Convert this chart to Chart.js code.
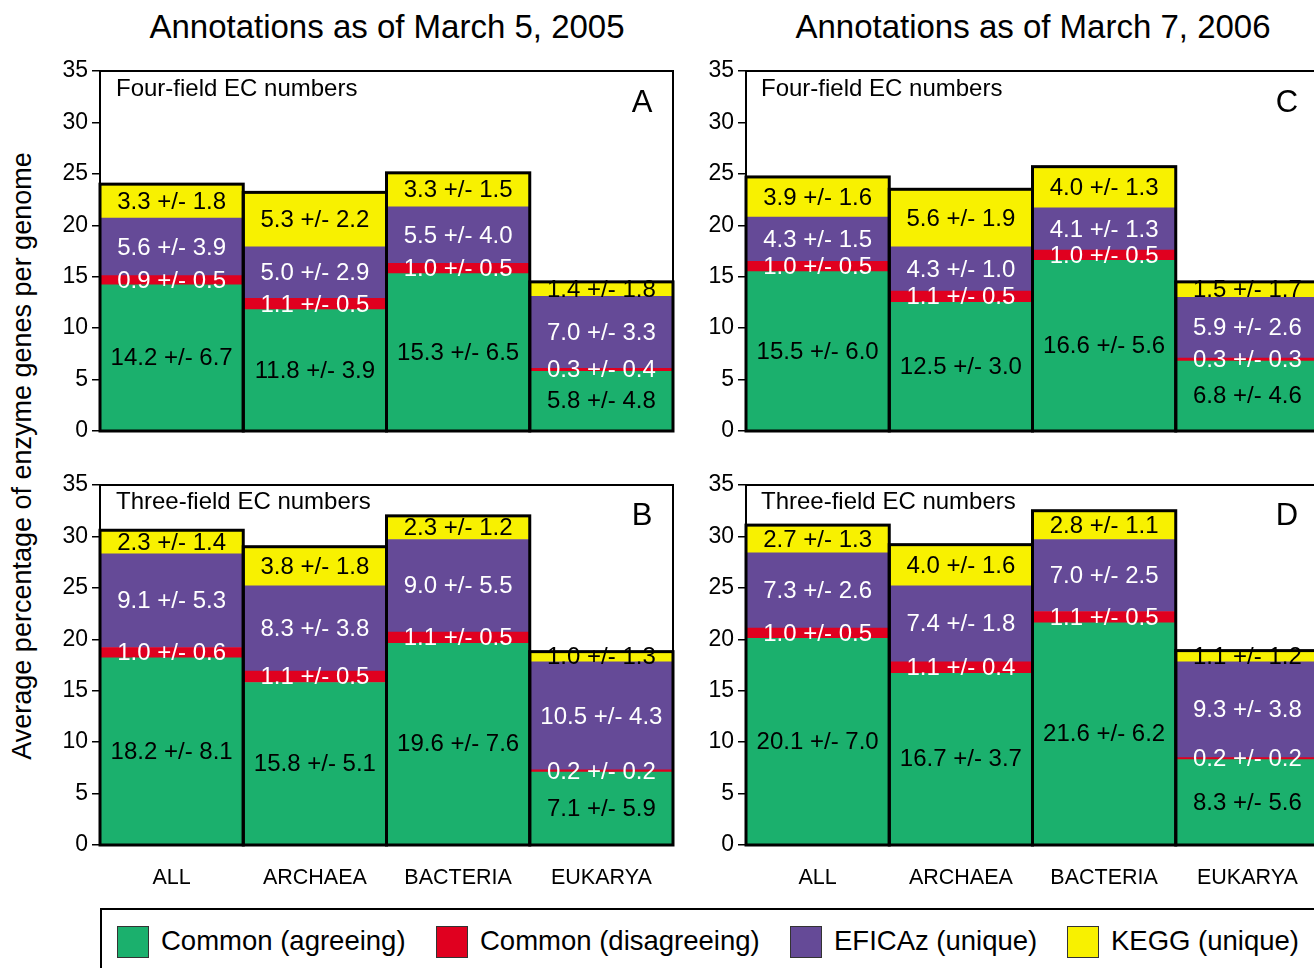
<!DOCTYPE html>
<html lang="en">
<head>
<meta charset="UTF-8">
<title>Enzyme gene annotations</title>
<script src="https://cdn.jsdelivr.net/npm/chart.js"></script>
<style>
    body {
        margin: 0;
        width: 1314px;
        height: 968px;
        overflow: hidden;
        position: relative;
        background: #fff;
        font-family: "Liberation Sans", Arial, sans-serif;
        color: #000;
    }
    canvas { position: absolute; }
    .title {
        position: absolute;
        font-size: 33px;
        white-space: nowrap;
        transform: translate(-50%, -50%);
    }
    .inner {
        position: absolute;
        font-size: 24px;
        white-space: nowrap;
        transform: translateY(-50%);
    }
    .letter {
        position: absolute;
        font-size: 31px;
        transform: translate(-50%, -50%);
    }
    #ylabel {
        position: absolute;
        left: 22px;
        top: 456px;
        font-size: 27px;
        white-space: nowrap;
        transform: translate(-50%, -50%) rotate(-90deg);
    }
    #legend {
        position: absolute;
        left: 100px;
        top: 908px;
        width: 1260px;
        height: 100px;
        border: 2px solid #000;
        box-sizing: border-box;
    }
    .swatch {
        position: absolute;
        top: 16px;
        width: 30px;
        height: 30px;
        border: 1px solid #333;
    }
    .ltext {
        position: absolute;
        top: 31px;
        font-size: 27.5px;
        white-space: nowrap;
        transform: translateY(-50%);
    }
</style>
</head>
<body>
<div class="title" style="left:387px; top:27px;">Annotations as of March 5, 2005</div>
<div class="title" style="left:1033px; top:27px;">Annotations as of March 7, 2006</div>
<div id="ylabel">Average percentage of enzyme genes per genome</div>

<canvas id="chartA" width="690" height="396" style="left:0px; top:53px;"></canvas>
<canvas id="chartB" width="690" height="433" style="left:0px; top:467px;"></canvas>
<canvas id="chartC" width="690" height="396" style="left:646px; top:53px;"></canvas>
<canvas id="chartD" width="690" height="433" style="left:646px; top:467px;"></canvas>

<div class="inner" style="left:116px; top:88px;">Four-field EC numbers</div>
<div class="inner" style="left:761px; top:88px;">Four-field EC numbers</div>
<div class="inner" style="left:116px; top:501px;">Three-field EC numbers</div>
<div class="inner" style="left:761px; top:501px;">Three-field EC numbers</div>
<div class="letter" style="left:642px; top:102px;">A</div>
<div class="letter" style="left:1287px; top:102px;">C</div>
<div class="letter" style="left:642px; top:515px;">B</div>
<div class="letter" style="left:1287px; top:515px;">D</div>

<div id="legend"></div>

<script>
    const categories = ['ALL', 'ARCHAEA', 'BACTERIA', 'EUKARYA'];
    const seriesNames = ['Common (agreeing)', 'Common (disagreeing)', 'EFICAz (unique)', 'KEGG (unique)'];
    const seriesColors = ['#1bb06d', '#e0001f', '#654a97', '#f8f100'];
    const labelColors = ['#000', '#fff', '#fff', '#000'];
    const yTicksMax = 35;

    // A: four-field EC numbers, March 5, 2005
    const aAgree = [14.2, 11.8, 15.3, 5.8],  aAgreeSd = [6.7, 3.9, 6.5, 4.8];
    const aDisagree = [0.9, 1.1, 1.0, 0.3],  aDisagreeSd = [0.5, 0.5, 0.5, 0.4];
    const aEficaz = [5.6, 5.0, 5.5, 7.0],    aEficazSd = [3.9, 2.9, 4.0, 3.3];
    const aKegg = [3.3, 5.3, 3.3, 1.4],      aKeggSd = [1.8, 2.2, 1.5, 1.8];

    // B: three-field EC numbers, March 5, 2005
    const bAgree = [18.2, 15.8, 19.6, 7.1],  bAgreeSd = [8.1, 5.1, 7.6, 5.9];
    const bDisagree = [1.0, 1.1, 1.1, 0.2],  bDisagreeSd = [0.6, 0.5, 0.5, 0.2];
    const bEficaz = [9.1, 8.3, 9.0, 10.5],   bEficazSd = [5.3, 3.8, 5.5, 4.3];
    const bKegg = [2.3, 3.8, 2.3, 1.0],      bKeggSd = [1.4, 1.8, 1.2, 1.3];

    // C: four-field EC numbers, March 7, 2006
    const cAgree = [15.5, 12.5, 16.6, 6.8],  cAgreeSd = [6.0, 3.0, 5.6, 4.6];
    const cDisagree = [1.0, 1.1, 1.0, 0.3],  cDisagreeSd = [0.5, 0.5, 0.5, 0.3];
    const cEficaz = [4.3, 4.3, 4.1, 5.9],    cEficazSd = [1.5, 1.0, 1.3, 2.6];
    const cKegg = [3.9, 5.6, 4.0, 1.5],      cKeggSd = [1.6, 1.9, 1.3, 1.7];

    // D: three-field EC numbers, March 7, 2006
    const dAgree = [20.1, 16.7, 21.6, 8.3],  dAgreeSd = [7.0, 3.7, 6.2, 5.6];
    const dDisagree = [1.0, 1.1, 1.1, 0.2],  dDisagreeSd = [0.5, 0.4, 0.5, 0.2];
    const dEficaz = [7.3, 7.4, 7.0, 9.3],    dEficazSd = [2.6, 1.8, 2.5, 3.8];
    const dKegg = [2.7, 4.0, 2.8, 1.1],      dKeggSd = [1.3, 1.6, 1.1, 1.2];

    const fontFamily = '"Liberation Sans", Arial, sans-serif';

    // frame, outline of each stacked bar, and the "mean +/- sd" labels
    const barDecor = {
        id: 'barDecor',
        afterDatasetsDraw(chart) {
            const ctx = chart.ctx;
            const area = chart.chartArea;
            const base = chart.scales.y.getPixelForValue(0);
            const top = chart.getDatasetMeta(chart.data.datasets.length - 1);
            ctx.save();
            ctx.strokeStyle = '#000';
            ctx.lineWidth = 2;
            ctx.strokeRect(area.left, area.top, area.right - area.left, area.bottom - area.top);
            ctx.lineWidth = 3;
            top.data.forEach(el => {
                ctx.strokeRect(el.x - el.width / 2, el.y, el.width, base - el.y);
            });
            ctx.font = '24px ' + fontFamily;
            ctx.textAlign = 'center';
            ctx.textBaseline = 'middle';
            chart.data.datasets.forEach((ds, i) => {
                const meta = chart.getDatasetMeta(i);
                meta.data.forEach((el, j) => {
                    ctx.fillStyle = ds.labelColor;
                    const txt = ds.data[j].toFixed(1) + ' +/- ' + ds.sd[j].toFixed(1);
                    ctx.fillText(txt, el.x, (el.y + el.base) / 2 + 1);
                });
            });
            ctx.restore();
        }
    };

    function makePanel(id, means, sds, showCats) {
        const datasets = means.map((m, i) => ({
            label: seriesNames[i],
            data: m,
            sd: sds[i],
            labelColor: labelColors[i],
            backgroundColor: seriesColors[i],
            borderWidth: 0,
            barPercentage: 1,
            categoryPercentage: 1
        }));
        return new Chart(document.getElementById(id), {
            type: 'bar',
            data: { labels: categories, datasets: datasets },
            options: {
                responsive: false,
                animation: false,
                layout: { padding: { top: 18, right: 17, left: 0, bottom: 0 } },
                plugins: { legend: { display: false }, tooltip: { enabled: false } },
                scales: {
                    x: {
                        stacked: true,
                        grid: { display: false },
                        border: { color: '#000', width: 2 },
                        ticks: { display: showCats, color: '#000', font: { size: 21.5, family: fontFamily }, padding: 12 },
                        afterFit: s => { s.height = showCats ? 55 : 18; }
                    },
                    y: {
                        stacked: true,
                        min: 0,
                        max: yTicksMax,
                        ticks: { stepSize: 5, color: '#000', font: { size: 23, family: fontFamily }, padding: 4 },
                        grid: { drawOnChartArea: false, color: '#000', lineWidth: 1.5, tickLength: 8 },
                        border: { color: '#000', width: 2 },
                        afterFit: s => { s.width = 100; }
                    }
                }
            },
            plugins: [barDecor]
        });
    }

    makePanel('chartA', [aAgree, aDisagree, aEficaz, aKegg], [aAgreeSd, aDisagreeSd, aEficazSd, aKeggSd], false);
    makePanel('chartB', [bAgree, bDisagree, bEficaz, bKegg], [bAgreeSd, bDisagreeSd, bEficazSd, bKeggSd], true);
    makePanel('chartC', [cAgree, cDisagree, cEficaz, cKegg], [cAgreeSd, cDisagreeSd, cEficazSd, cKeggSd], false);
    makePanel('chartD', [dAgree, dDisagree, dEficaz, dKegg], [dAgreeSd, dDisagreeSd, dEficazSd, dKeggSd], true);

    // shared legend along the bottom
    const legend = document.getElementById('legend');
    const swatchLeft = [15, 334, 688, 965];
    seriesNames.forEach((name, i) => {
        const sw = document.createElement('div');
        sw.className = 'swatch';
        sw.style.left = swatchLeft[i] + 'px';
        sw.style.background = seriesColors[i];
        legend.appendChild(sw);
        const t = document.createElement('div');
        t.className = 'ltext';
        t.style.left = (swatchLeft[i] + 44) + 'px';
        t.textContent = name;
        legend.appendChild(t);
    });
</script>
</body>
</html>
